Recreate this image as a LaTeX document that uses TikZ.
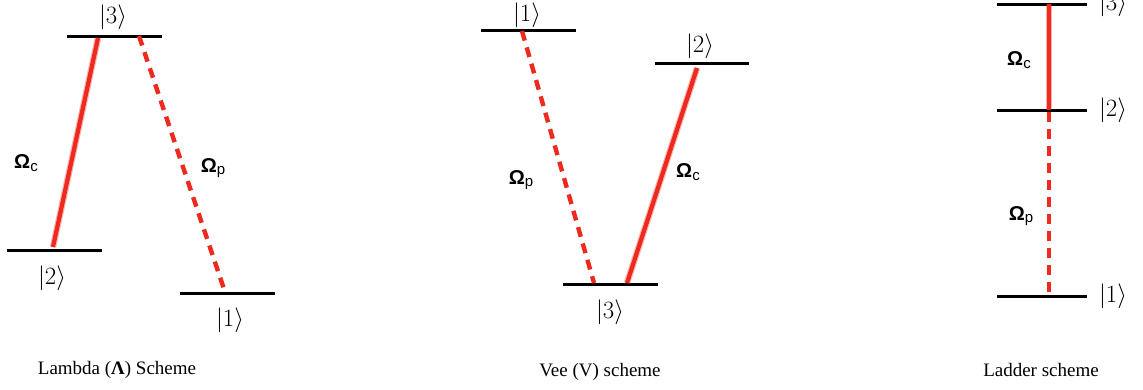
\documentclass[tikz,border=0pt]{standalone}
\usepackage{fontspec}
\setmainfont{Liberation Serif}
\newfontfamily\sansf{Liberation Sans}
\definecolor{laser}{RGB}{238,42,30}
\begin{document}
\begin{tikzpicture}[x=1pt,y=-1pt,
  level/.style={line width=3pt,black},
  coupling/.style={line width=4.2pt,laser,line cap=butt,
    preaction={draw,laser,opacity=0.35,line width=6.5pt}},
  probe/.style={line width=4.4pt,laser,dash pattern=on 10pt off 7pt},
  ket/.style={inner sep=0pt,font=\fontsize{23.5}{23.5}\selectfont},
  omega/.style={inner sep=0pt,font=\sansf\fontsize{20}{20}\selectfont},
  caption/.style={inner sep=0pt,font=\fontsize{19}{19}\selectfont}]
\useasboundingbox[fill=white] (0,0) rectangle (1143,389);
\newcommand{\Om}[1]{\textbf{Ω}\raisebox{-0.25ex}{\fontsize{15}{15}\selectfont #1}}

% ---------- Lambda scheme ----------
\coordinate (A3l) at (67,36);  \coordinate (A3r) at (162,36);
\coordinate (A2l) at (7,250);  \coordinate (A2r) at (102,250);
\coordinate (A1l) at (180,293);\coordinate (A1r) at (275,293);
\draw[level] (A3l) -- (A3r);
\draw[level] (A2l) -- (A2r);
\draw[level] (A1l) -- (A1r);
\coordinate (Ac3) at (98,38);  \coordinate (Ac2) at (53,247);
\coordinate (Ap3) at (139,36); \coordinate (Ap1) at (225,292);
\draw[coupling] (Ac3) -- (Ac2);
\draw[probe] (Ap3) -- (Ap1);
\node[ket] (Ak3) at (113,17) {$|3\rangle$};
\node[ket] (Ak2) at (52,278) {$|2\rangle$};
\node[ket] (Ak1) at (230,320) {$|1\rangle$};
\node[omega] (AOc) at (26,163) {\Om{c}};
\node[omega] (AOp) at (213,168) {\Om{p}};
\node[caption] (Acap) at (117,370) {Lambda (\textbf{Λ}) Scheme};

% ---------- Vee scheme ----------
\coordinate (V1l) at (481,30);  \coordinate (V1r) at (576,30);
\coordinate (V2l) at (655,63);  \coordinate (V2r) at (749,63);
\coordinate (V3l) at (563,284); \coordinate (V3r) at (658,284);
\draw[level] (V1l) -- (V1r);
\draw[level] (V2l) -- (V2r);
\draw[level] (V3l) -- (V3r);
\coordinate (Vp1) at (522,31);  \coordinate (Vp3) at (594,283);
\coordinate (Vc2) at (697,68);  \coordinate (Vc3) at (627,283);
\draw[probe] (Vp1) -- (Vp3);
\draw[coupling] (Vc2) -- (Vc3);
\node[ket] (Vk1) at (527,15.5) {$|1\rangle$};
\node[ket] (Vk2) at (700,46) {$|2\rangle$};
\node[ket] (Vk3) at (610,312) {$|3\rangle$};
\node[omega] (VOp) at (521,180) {\Om{p}};
\node[omega] (VOc) at (688,172) {\Om{c}};
\node[caption] (Vcap) at (600,372) {Vee (V) scheme};

% ---------- Ladder scheme ----------
\coordinate (L3l) at (997,4);   \coordinate (L3r) at (1087,4);
\coordinate (L2l) at (997,110); \coordinate (L2r) at (1087,110);
\coordinate (L1l) at (997,296); \coordinate (L1r) at (1087,296);
\draw[level] (L3l) -- (L3r);
\draw[level] (L2l) -- (L2r);
\draw[level] (L1l) -- (L1r);
\coordinate (Lc3) at (1049,4);  \coordinate (Lc2) at (1049,110);
\coordinate (Lp2) at (1049,112);\coordinate (Lp1) at (1049,293);
\draw[coupling] (Lc3) -- (Lc2);
\draw[probe] (Lp2) -- (Lp1);
\node[ket] (Lk3) at (1113,4) {$|3\rangle$};
\node[ket] (Lk2) at (1113,110) {$|2\rangle$};
\node[ket] (Lk1) at (1113,296) {$|1\rangle$};
\node[omega] (LOc) at (1019,60) {\Om{c}};
\node[omega] (LOp) at (1021,216) {\Om{p}};
\node[caption] (Lcap) at (1041,370) {Ladder scheme};
\end{tikzpicture}
\end{document}
